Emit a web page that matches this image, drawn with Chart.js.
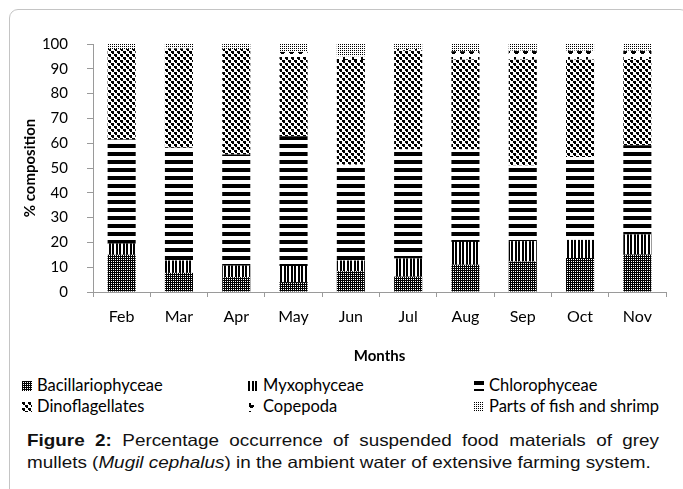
<!DOCTYPE html>
<html lang="en">
<head>
    <meta charset="UTF-8">
    <title>Suspended food materials of grey mullets</title>
    <style>
        body {
            margin: 0;
            width: 683px;
            height: 489px;
            overflow: hidden;
            background: #fff;
            position: relative;
            font-family: Lato, "Open Sans", sans-serif;
        }

        #frame {
            position: absolute;
            left: 9px;
            top: 9px;
            width: 680px;
            height: 520px;
            border: 1px solid #c4c4c4;
            border-radius: 9px;
            box-sizing: border-box;
        }

        #foodChart {
            position: absolute;
            left: 0;
            top: 0;
        }

        .legend-item {
            position: absolute;
            font-size: 16.5px;
            color: #000;
            white-space: nowrap;
            line-height: 18px;
        }

        .legend-item canvas {
            position: absolute;
            left: -15px;
            top: 5px;
        }

        #caption {
            position: absolute;
            left: 27px;
            top: 429px;
            width: 552px;
            font-family: "Liberation Sans", Arial, sans-serif;
            font-size: 16.5px;
            line-height: 22px;
            color: #111;
            transform: scaleX(1.145);
            transform-origin: 0 0;
        }

        #caption .first {
            text-align: justify;
            text-align-last: justify;
            white-space: nowrap;
        }
    </style>
</head>
<body>
    <div id="frame"></div>
    <canvas id="foodChart" width="683" height="369"></canvas>
    <div id="legend"></div>
    <div id="caption">
        <div class="first"><b>Figure 2:</b> Percentage occurrence of suspended food materials of grey</div>
        <div>mullets (<i>Mugil cephalus</i>) in the ambient water of extensive farming system.</div>
    </div>

    <script src="https://cdn.jsdelivr.net/npm/chart.js"></script>
    <script>
        const months = ["Feb", "Mar", "Apr", "May", "Jun", "Jul", "Aug", "Sep", "Oct", "Nov"];

        const bacillariophyceae = [15, 7.7, 6, 4, 8.4, 6.2, 11, 12.3, 13.7, 15.1];
        const myxophyceae = [4.5, 5, 4.6, 6.5, 4.3, 7.3, 9.2, 8.2, 7.3, 8.1];
        const chlorophyceae = [42, 45.5, 44.8, 52.3, 38.6, 44, 37.3, 30.5, 33.4, 36];
        const dinoflagellates = [36.5, 40, 42.6, 32, 42.2, 40, 36.3, 42.8, 39.4, 34.8];
        const copepoda = [0, 0, 0, 2, 1.5, 0.5, 3.3, 3.5, 3.5, 3.3];
        const partsOfFish = [2, 1.8, 2, 3.2, 5, 2, 2.9, 2.7, 2.7, 2.7];

        const seriesNames = ["Bacillariophyceae", "Myxophyceae", "Chlorophyceae",
            "Dinoflagellates", "Copepoda", "Parts of fish and shrimp"];

        // small tiles used as fill patterns (black on white)
        function makeTile(w, h, draw) {
            const c = document.createElement("canvas");
            c.width = w;
            c.height = h;
            const g = c.getContext("2d");
            g.fillStyle = "#fff";
            g.fillRect(0, 0, w, h);
            g.fillStyle = "#000";
            draw(g);
            return c;
        }

        const tiles = [
            // dense dotted grid
            makeTile(2, 2, g => { g.fillRect(0, 0, 2, 2); g.fillStyle = "#fff"; g.fillRect(1, 1, 1, 1); }),
            // vertical stripes
            makeTile(7, 4, g => { g.fillRect(0, 0, 2, 4); g.fillRect(4, 0, 2, 4); }),
            // thick horizontal bars
            makeTile(4, 8, g => { g.fillRect(0, 0, 4, 4); }),
            // large confetti
            makeTile(6, 6, g => {
                g.fillRect(0, 0, 3, 2); g.fillRect(1, 2, 2, 1);
                g.fillRect(3, 3, 3, 2); g.fillRect(4, 5, 2, 1);
            }),
            // shingles
            makeTile(9, 8, g => { g.fillRect(1, 1, 2, 4); g.fillRect(3, 3, 3, 2); g.fillRect(2, 5, 3, 1); }),
            // fine stipple
            makeTile(2, 2, g => { g.fillRect(0, 0, 1, 1); })
        ];

        const ctx = document.getElementById("foodChart").getContext("2d");
        const fills = tiles.map(t => ctx.createPattern(t, "repeat"));

        const values = [bacillariophyceae, myxophyceae, chlorophyceae, dinoflagellates, copepoda, partsOfFish];

        const datasets = values.map((data, i) => ({
            label: seriesNames[i],
            data: data,
            backgroundColor: fills[i],
            borderWidth: 0,
            barPercentage: 0.49,
            categoryPercentage: 1
        }));

        const tickFont = { family: "Lato", size: 15 };
        const axisGray = "#9a9a9a";

        new Chart(ctx, {
            type: "bar",
            data: { labels: months, datasets: datasets },
            options: {
                responsive: false,
                animation: false,
                devicePixelRatio: 1,
                layout: { padding: { left: 10, top: 44, right: 17, bottom: 0 } },
                plugins: {
                    legend: { display: false },
                    tooltip: { enabled: false }
                },
                scales: {
                    x: {
                        stacked: true,
                        grid: {
                            drawOnChartArea: false,
                            drawTicks: true,
                            tickLength: 5,
                            color: axisGray
                        },
                        border: { color: axisGray },
                        ticks: { font: { family: "Lato", size: 16 }, color: "#000", padding: 10 },
                        title: {
                            display: true,
                            text: "Months",
                            font: { family: "Lato", size: 15, weight: "bold" },
                            color: "#000"
                        },
                        afterFit: axis => { axis.height = 369 - 292; }
                    },
                    y: {
                        stacked: true,
                        min: 0,
                        max: 100,
                        grid: {
                            drawOnChartArea: false,
                            drawTicks: true,
                            tickLength: 6,
                            color: axisGray
                        },
                        border: { color: axisGray },
                        ticks: { stepSize: 10, font: tickFont, color: "#000", padding: 19 },
                        title: {
                            display: true,
                            text: "% composition",
                            font: { family: "Lato", size: 15, weight: "bold" },
                            color: "#000",
                            padding: { top: 11, bottom: 0 }
                        },
                        afterFit: axis => { axis.width = 83; }
                    }
                }
            }
        });

        // legend in three columns, two rows
        const legendSpots = [[37, 376], [263, 376], [489, 376], [37, 397], [263, 397], [489, 397]];
        const legend = document.getElementById("legend");
        seriesNames.forEach((name, i) => {
            const item = document.createElement("div");
            item.className = "legend-item";
            item.style.left = legendSpots[i][0] + "px";
            item.style.top = legendSpots[i][1] + "px";
            item.textContent = name;
            const box = document.createElement("canvas");
            box.width = 10;
            box.height = 10;
            const bctx = box.getContext("2d");
            bctx.fillStyle = bctx.createPattern(tiles[i], "repeat");
            bctx.fillRect(0, 0, 10, 10);
            item.appendChild(box);
            legend.appendChild(item);
        });
    </script>
</body>
</html>
